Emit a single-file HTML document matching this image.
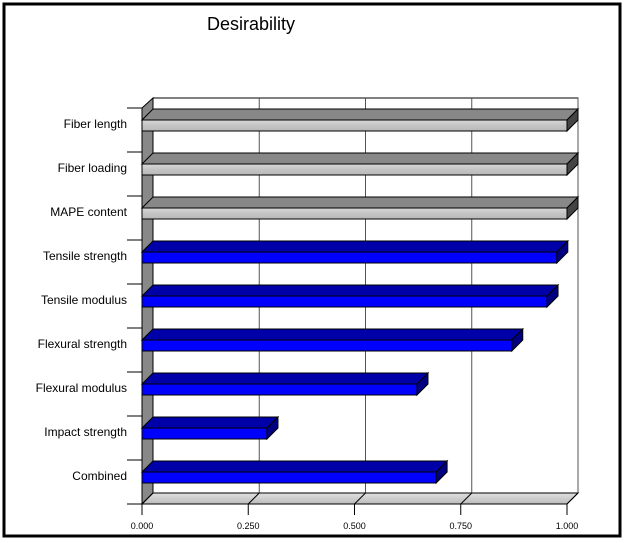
<!DOCTYPE html>
<html><head><meta charset="utf-8"><style>
html,body{margin:0;padding:0;background:#fff;}
svg{display:block;font-family:"Liberation Sans",Arial,sans-serif;}
</style></head><body>
<svg id="chart" width="625" height="543" viewBox="0 0 625 543">
<defs>
<linearGradient id="gfront" x1="0" y1="0" x2="0" y2="1"><stop offset="0" stop-color="#d8d8d8"/><stop offset="0.5" stop-color="#c4c4c4"/><stop offset="1" stop-color="#b8b8b8"/></linearGradient>
<linearGradient id="floorg" x1="0" y1="0" x2="0" y2="1"><stop offset="0" stop-color="#e0e0e0"/><stop offset="1" stop-color="#bcbcbc"/></linearGradient>
</defs>
<rect x="4" y="4" width="616" height="532" fill="#fff" stroke="#000" stroke-width="3"/>
<text x="207" y="30" font-size="18">Desirability</text>
<g id="plot"></g>
</svg>
<script>
const categories=["Fiber length","Fiber loading","MAPE content","Tensile strength","Tensile modulus","Flexural strength","Flexural modulus","Impact strength","Combined"];
const values=[1.0,1.0,1.0,0.976,0.953,0.87,0.647,0.294,0.692];
const kinds=["gray","gray","gray","blue","blue","blue","blue","blue","blue"];
const ticks=[0,0.25,0.5,0.75,1.0];
const tickLabels=["0.000","0.250","0.500","0.750","1.000"];
const NS="http://www.w3.org/2000/svg";
const X0=142,X1=567,D=11,TOP=108,BOT=504,WTOP=98;
const bandH=(BOT-TOP)/categories.length;
function x(v){return X0+v*(X1-X0);}
function y(i){return TOP+i*bandH;}
const g=document.getElementById('plot');
function mk(tag,attrs,parent){const e=document.createElementNS(NS,tag);for(const k in attrs)e.setAttribute(k,attrs[k]);(parent||g).appendChild(e);return e;}
let e=mk('rect',{x:X0+D,y:WTOP,width:X1-X0,height:BOT-D-WTOP,fill:'#fff',stroke:'#000','stroke-width':1});


ticks.forEach((t,k)=>{
  if(k===0)return;
  const l=mk('line',{x1:x(t)+D,x2:x(t)+D,y1:WTOP,y2:BOT-D,stroke:'#555','stroke-width':1});
  
  
});
e=mk('polygon',{points:`${X0},${TOP} ${X0+D},${WTOP} ${X0+D},${BOT-D} ${X0},${BOT}`,fill:'#888',stroke:'#000','stroke-width':1});


e=mk('polygon',{points:`${X0},${BOT} ${X0+D},${BOT-D} ${X1+D},${BOT-D} ${X1},${BOT}`,fill:'url(#floorg)',stroke:'#000','stroke-width':1});


ticks.forEach((t,k)=>{
  const l=mk('line',{x1:x(t),y1:BOT,x2:x(t)+D,y2:BOT-D,stroke:'#000','stroke-width':1});
  
  
  const m=mk('line',{x1:x(t),y1:BOT,x2:x(t),y2:BOT+11,stroke:'#000','stroke-width':1});
  
  
  const tx=mk('text',{x:x(t),y:529,'font-size':9,'text-anchor':'middle'});
  tx.textContent=tickLabels[k];
  
  
});
for(let i=0;i<=categories.length;i++){
  const l=mk('line',{x1:127,x2:X0,y1:y(i),y2:y(i),stroke:'#000','stroke-width':1});
  
  
}
categories.forEach((c,i)=>{
  const t0=y(i)+1, fy=t0+D, fh=11;
  const xe=x(values[i]);
  const blue=kinds[i]==='blue';
  const bg=mk('g',{});
  
  
  mk('polygon',{points:`${X0},${fy} ${X0+D},${t0} ${xe+D},${t0} ${xe},${fy}`,fill:blue?'#0000a8':'#888',stroke:'#000','stroke-width':1},bg);
  mk('polygon',{points:`${xe},${fy} ${xe+D},${t0} ${xe+D},${t0+fh} ${xe},${fy+fh}`,fill:blue?'#000080':'#444',stroke:'#000','stroke-width':1},bg);
  mk('rect',{x:X0,y:fy,width:xe-X0,height:fh,fill:blue?'#0000ff':'url(#gfront)',stroke:'#000','stroke-width':1},bg);
  const tx=mk('text',{x:127,y:fy+8,'font-size':12,'text-anchor':'end'});
  tx.textContent=c;
  
  
});
</script>
</body></html>
